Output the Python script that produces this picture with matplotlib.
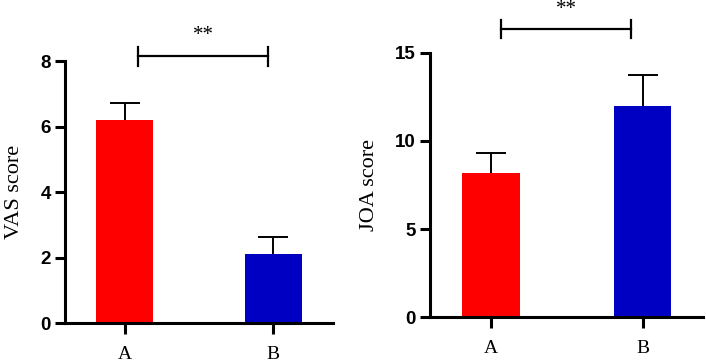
import matplotlib
matplotlib.use('Agg')
import matplotlib.pyplot as plt

groups = ['A', 'B']
vas_mean = [6.2, 2.1]
vas_err = [0.53, 0.52]
joa_mean = [8.17, 11.98]
joa_err = [1.17, 1.73]
bar_colors = ['#FF0000', '#0000C2']

plt.rcParams['font.family'] = ['Liberation Serif', 'DejaVu Serif']

fig = plt.figure(figsize=(7.06, 3.64), dpi=100)


def draw_panel(rect, means, errs, ylim, yticks, ylabel, bracket_y, bracket_x, star_y):
    ax = fig.add_axes(rect)
    x = range(len(groups))
    ax.bar(x, means, width=0.38, color=bar_colors, zorder=2)
    _, caps, _ = ax.errorbar(x, means, yerr=[[0, 0], errs], fmt='none', ecolor='black',
                             elinewidth=1.4, capsize=10.5, capthick=1.4, zorder=1)
    # only the upper cap is wanted
    caps[0].set_visible(False)
    ax.set_xlim(-0.4, 1.4)
    ax.set_ylim(*ylim)
    ax.set_yticks(yticks)
    ax.set_xticks(list(x))
    ax.set_xticklabels(groups, fontsize=14)
    for lab in ax.get_yticklabels():
        lab.set_fontfamily('Liberation Sans')
        lab.set_fontweight('bold')
        lab.set_fontsize(13.5)
    ax.set_ylabel(ylabel, fontsize=16, labelpad=12)
    ax.spines['top'].set_visible(False)
    ax.spines['right'].set_visible(False)
    ax.spines['left'].set_linewidth(2.2)
    ax.spines['bottom'].set_linewidth(2.2)
    ax.tick_params(axis='y', length=7, width=2.2, pad=3)
    ax.tick_params(axis='x', length=8, width=2.2, pad=8.5)
    # significance bracket
    x0, x1 = bracket_x
    h = (ylim[1] - ylim[0]) * 0.035
    ax.plot([x0, x1], [bracket_y, bracket_y], color='black', lw=1.6, clip_on=False)
    for xx in bracket_x:
        ax.plot([xx, xx], [bracket_y - h, bracket_y + h], color='black', lw=1.6, clip_on=False)
    ax.text((x0 + x1) / 2, star_y, '**', ha='center', va='center', fontsize=15)
    return ax


draw_panel([0.092, 0.1126, 0.3796, 0.7198], vas_mean, vas_err, (0, 8), [0, 2, 4, 6, 8],
           'VAS score', 8.14, (0.09, 0.965), 8.78)
draw_panel([0.609, 0.1283, 0.3871, 0.727], joa_mean, joa_err, (0, 15), [0, 5, 10, 15],
           'JOA score', 16.34, (0.067, 0.925), 17.45)

fig.savefig('out.png', dpi=100)
